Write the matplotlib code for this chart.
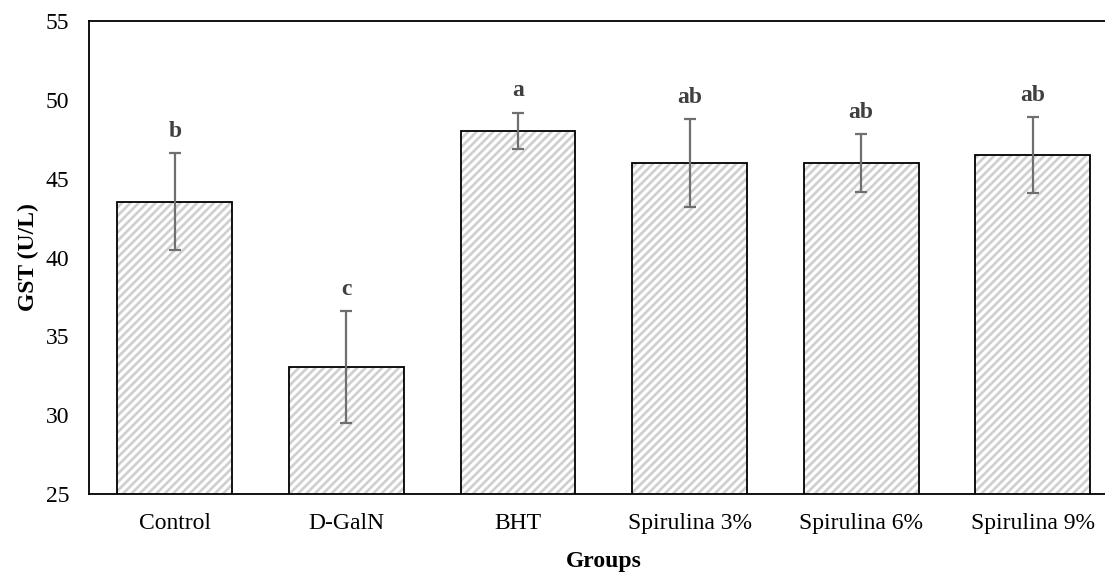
import matplotlib.pyplot as plt
import numpy as np

# Data
groups = ["Control", "D-GalN", "BHT", "Spirulina 3%", "Spirulina 6%", "Spirulina 9%"]
gst_mean = [43.55, 33.05, 48.02, 45.97, 46.01, 46.48]
gst_err = [3.1, 3.55, 1.17, 2.79, 1.84, 2.41]
letters = ["b", "c", "a", "ab", "ab", "ab"]

plt.rcParams["font.family"] = ["Liberation Serif", "DejaVu Serif"]
plt.rcParams["hatch.linewidth"] = 1.9

fig = plt.figure(figsize=(11.05, 5.73), dpi=100)
ax = fig.add_axes([89 / 1105, 79 / 573, 1029.6 / 1105, 473 / 573])

x = np.arange(len(groups))
# hatched fill (light grey stripes), then black outline on top
ax.bar(x, gst_mean, width=0.67, color="white", edgecolor="#cfcfcf",
       linewidth=0, hatch="////", zorder=2)
ax.bar(x, gst_mean, width=0.67, fill=False, edgecolor="black",
       linewidth=1.3, zorder=2.5)
ax.errorbar(x, gst_mean, yerr=gst_err, fmt="none", ecolor="#6f6f6f",
            elinewidth=1.6, capsize=4.5, capthick=1.6, zorder=3)

# significance letters above the error bars
for xi, m, e, lab in zip(x, gst_mean, gst_err, letters):
    ax.annotate(lab, (xi, m + e), xytext=(0, 8), textcoords="offset points",
                ha="center", va="bottom", fontsize=17, fontweight="bold",
                color="#404040")

ax.set_xlim(-0.5, len(groups) - 0.5)
ax.set_ylim(25, 55)
ax.set_yticks(range(25, 56, 5))
ax.set_xticks(x)
ax.set_xticklabels(groups)
ax.tick_params(axis="both", length=0, labelsize=17)
ax.tick_params(axis="y", pad=14)
ax.tick_params(axis="x", pad=14)

for s in ["left", "top", "bottom", "right"]:
    ax.spines[s].set_linewidth(1.3)

ax.set_ylabel("GST (U/L)", fontsize=17, fontweight="bold", labelpad=5)
ax.set_xlabel("Groups", fontsize=17, fontweight="bold", labelpad=12)

fig.savefig("out.png", dpi=100)
